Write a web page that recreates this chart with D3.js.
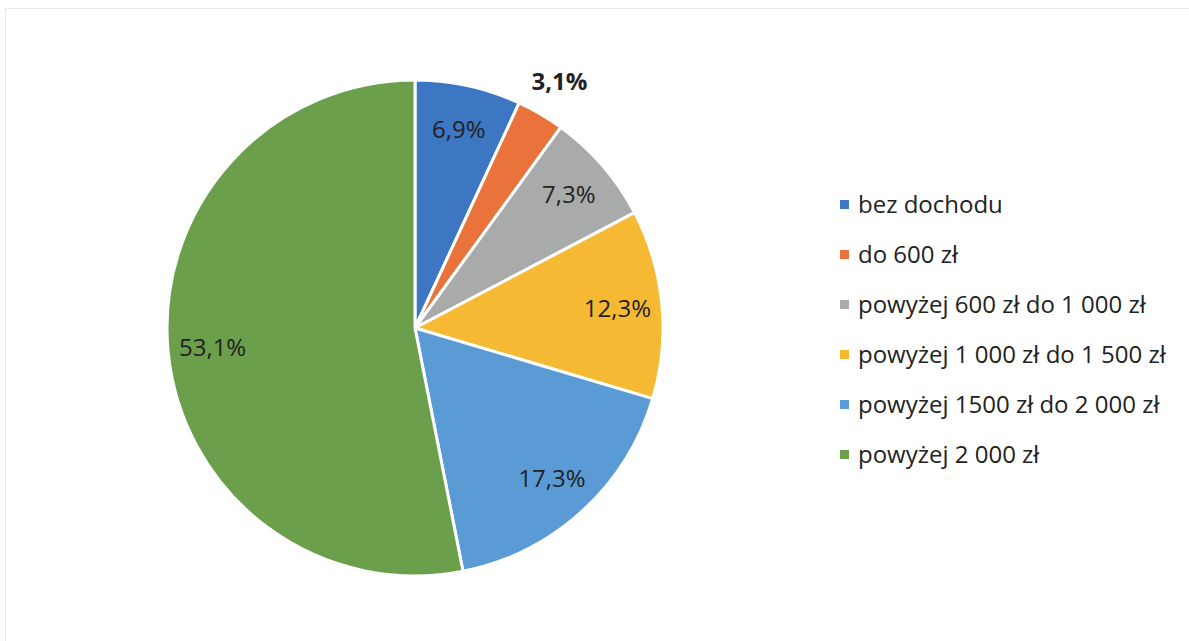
<html>
  <head>
    <meta charset="utf-8">
    <style>
      body {
        margin: 0;
        background: #fff;
      }
      text {
        font-family: "Open Sans", sans-serif;
        fill: #222;
      }
    </style>
  </head>
  <body>
    <script src="https://cdn.jsdelivr.net/npm/d3@7"></script>
    <script>
      var width = 1189, height = 641;

      var categories = ["bez dochodu", "do 600 zł", "powyżej 600 zł do 1 000 zł",
        "powyżej 1 000 zł do 1 500 zł", "powyżej 1500 zł do 2 000 zł", "powyżej 2 000 zł"];
      var values = [6.9, 3.1, 7.3, 12.3, 17.3, 53.1];
      var labels = ["6,9%", "3,1%", "7,3%", "12,3%", "17,3%", "53,1%"];
      var colors = ["#3d77c3", "#e9733b", "#a9abab", "#f6b934", "#5b9bd5", "#6c9f4b"];

      var cx = 415, cy = 328, radius = 248;

      var svg = d3.select("body").append("svg")
          .attr("width", width)
          .attr("height", height);

      // faint frame of the scanned chart area
      svg.append("rect")
          .attr("x", 5.5)
          .attr("y", 8.5)
          .attr("width", width + 10)
          .attr("height", height + 10)
          .attr("fill", "none")
          .attr("stroke", "#e8e8e8");

      var pie = d3.pie().sort(null).value(function(d){ return d; });
      var arc = d3.arc().innerRadius(0).outerRadius(radius);
      var labelArc = d3.arc().innerRadius(radius * 0.82).outerRadius(radius * 0.82);
      var outerArc = d3.arc().innerRadius(radius * 1.15).outerRadius(radius * 1.15);

      var arcs = pie(values);

      var g = svg.append("g")
          .attr("transform", "translate(" + cx + "," + cy + ")");

      g.selectAll("path")
          .data(arcs)
        .enter().append("path")
          .attr("d", arc)
          .attr("fill", function(d, i){ return colors[i]; })
          .attr("stroke", "#fff")
          .attr("stroke-width", 3)
          .attr("stroke-linejoin", "round");

      g.selectAll("text.lbl")
          .data(arcs)
        .enter().append("text")
          .attr("class", "lbl")
          .attr("transform", function(d, i){
            var c = i === 1 ? outerArc.centroid(d) : labelArc.centroid(d);
            return "translate(" + c[0] + "," + c[1] + ")";
          })
          .attr("dy", "0.35em")
          .attr("text-anchor", "middle")
          .style("font-size", "24px")
          .style("font-weight", function(d, i){ return i === 1 ? "bold" : "normal"; })
          .text(function(d, i){ return labels[i]; });

      var legendY = d3.scaleBand()
          .domain(categories)
          .range([180, 480]);

      var legend = svg.append("g")
          .selectAll("g")
          .data(categories)
        .enter().append("g")
          .attr("transform", function(d){ return "translate(840," + (legendY(d) + legendY.bandwidth() / 2) + ")"; });

      legend.append("rect")
          .attr("x", 0)
          .attr("y", -5)
          .attr("width", 9)
          .attr("height", 9)
          .attr("fill", function(d, i){ return colors[i]; });

      legend.append("text")
          .attr("x", 18)
          .attr("dy", "0.35em")
          .style("font-size", "24px")
          .text(function(d){ return d; });
    </script>
  </body>
</html>
